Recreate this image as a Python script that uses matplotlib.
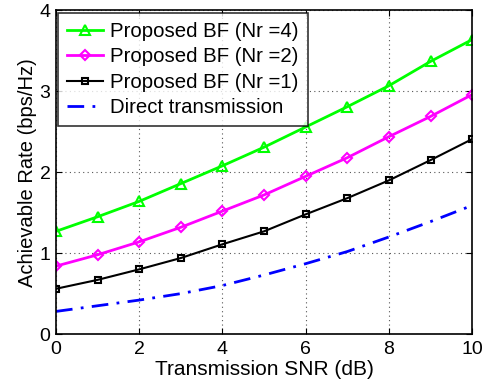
import matplotlib
matplotlib.use("Agg")
import matplotlib.pyplot as plt

snr = [0, 1, 2, 3, 4, 5, 6, 7, 8, 9, 10]
rate_nr4 = [1.27, 1.45, 1.64, 1.86, 2.08, 2.31, 2.56, 2.81, 3.07, 3.37, 3.64]
rate_nr2 = [0.84, 0.98, 1.14, 1.32, 1.52, 1.72, 1.95, 2.18, 2.44, 2.69, 2.96]
rate_nr1 = [0.56, 0.67, 0.80, 0.94, 1.11, 1.27, 1.48, 1.68, 1.90, 2.15, 2.41]
rate_direct = [0.28, 0.35, 0.42, 0.50, 0.60, 0.73, 0.87, 1.02, 1.20, 1.39, 1.59]
labels = ["Proposed BF (Nr =4)", "Proposed BF (Nr =2)", "Proposed BF (Nr =1)", "Direct transmission"]
xticks = [0, 2, 4, 6, 8, 10]
yticks = [0, 1, 2, 3, 4]

plt.rcParams['font.family'] = ['Liberation Sans', 'DejaVu Sans']

fig = plt.figure(figsize=(4.89, 3.88), dpi=100)
ax = fig.add_axes([0.1145, 0.139, 0.851, 0.834])

ax.plot(snr, rate_nr4, color='#00ff00', lw=2, marker='^', ms=6.5, mfc='none', mew=1.5, label=labels[0])
ax.plot(snr, rate_nr2, color='#ff00ff', lw=2, marker='D', ms=5.5, mfc='none', mew=1.5, label=labels[1])
ax.plot(snr, rate_nr1, color='black', lw=1.5, marker='s', ms=5, mfc='none', mew=1.5, label=labels[2])
ax.plot(snr, rate_direct, color='blue', lw=2, ls=(0, (6, 3, 1, 3)), label=labels[3])

ax.set_xlim(0, 10)
ax.set_ylim(0, 4)
ax.set_xticks(xticks)
ax.set_yticks(yticks)
ax.grid(True, ls=(0, (1, 3)), color='#555555', lw=0.8)
ax.tick_params(direction='in', labelsize=14, length=4, top=True, right=True)
ax.tick_params(axis='x', pad=5)
ax.tick_params(axis='y', pad=4)
for s in ax.spines.values():
    s.set_linewidth(1.2)
ax.set_xlabel('Transmission SNR (dB)', fontsize=15, labelpad=1.5)
ax.set_ylabel('Achievable Rate (bps/Hz)', fontsize=14.5, labelpad=2)

leg = ax.legend(loc='upper left', fontsize=14.7, frameon=True, fancybox=False, edgecolor='black',
                borderaxespad=0.1, handlelength=1.75, labelspacing=0.32, borderpad=0.45, handletextpad=0.35)
leg.get_frame().set_linewidth(1.2)

fig.savefig('out.png', dpi=100)
